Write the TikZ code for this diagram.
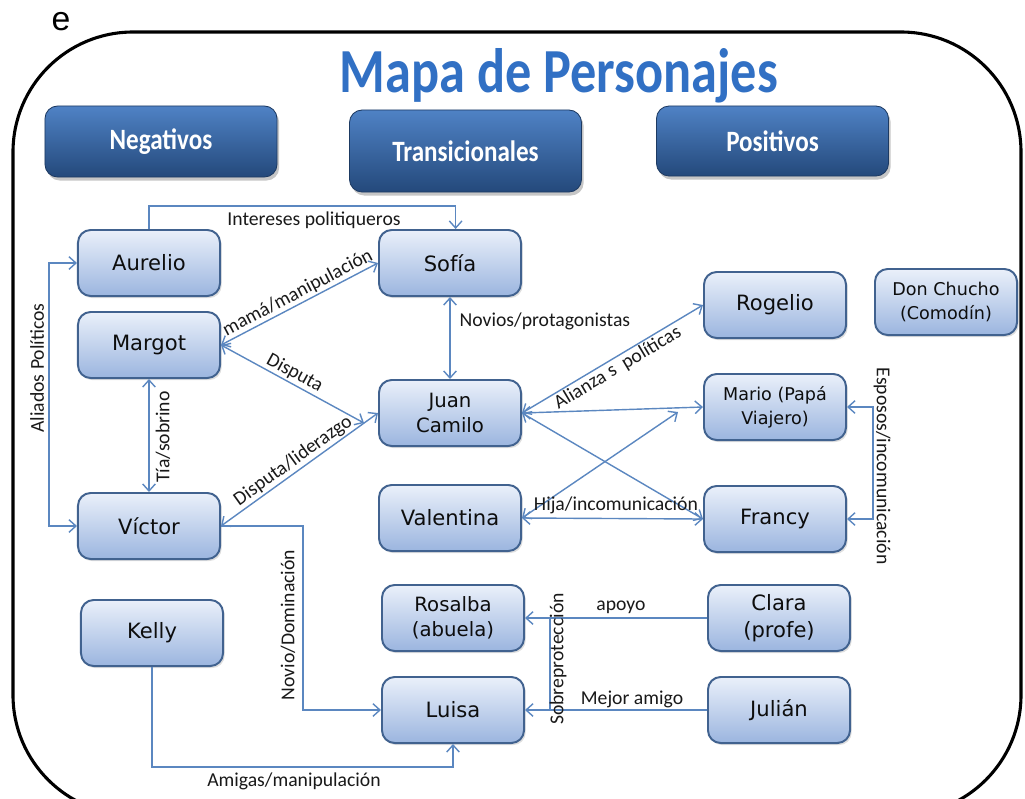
\documentclass[tikz,border=0pt]{standalone}
\usepackage{fontspec}
\setmainfont{Carlito}
\newfontfamily\comicf{DejaVu Sans}
\newfontfamily\arialf{Liberation Sans}
\usetikzlibrary{arrows.meta,shadows}
\definecolor{connc}{HTML}{5B87C0}
\definecolor{nodetop}{HTML}{EAF0FA}
\definecolor{nodebot}{HTML}{9BB5DF}
\definecolor{nodeborder}{HTML}{41628F}
\definecolor{hdrtop}{HTML}{4F82C5}
\definecolor{hdrbot}{HTML}{24497B}
\definecolor{titleblue}{HTML}{3170C4}
\newcommand\hdrtext[1]{\scalebox{0.85}[1]{#1}}
\begin{document}
\begin{tikzpicture}[x=0.025cm, y=-0.025cm,
  charbox/.style={draw=nodeborder, line width=1.4pt, rounded corners=9pt,
    top color=nodetop, bottom color=nodebot, minimum width=3.55cm,
    minimum height=1.65cm, inner sep=2pt, align=center,
    font=\comicf\fontsize{15}{19}\selectfont, text=black!95,
    drop shadow={shadow xshift=1.2pt, shadow yshift=-1.5pt, opacity=0.25}},
  smallbox/.style={font=\comicf\fontsize{12.5}{17}\selectfont},
  midbox/.style={font=\comicf\fontsize{14}{18}\selectfont},
  hdr/.style={draw=hdrbot!80!black, line width=0.6pt, rounded corners=9pt,
    top color=hdrtop, bottom color=hdrbot, minimum width=5.8cm,
    text=white, font=\fontsize{21}{24}\selectfont\bfseries,
    drop shadow={shadow xshift=1.5pt, shadow yshift=-2.5pt, opacity=0.45}},
  cn/.style={draw=connc, line width=1pt},
  >={Straight Barb[length=5pt,width=9pt]},
  lbl/.style={font=\fontsize{14}{16}\selectfont, text=black!90, inner sep=1pt}
]
\path[use as bounding box] (0,0) rectangle (1025,798);
\clip (0,0) rectangle (1025,798);

% outer frame
\draw[line width=2.2pt, rounded corners=3cm] (13,32) rectangle (1021,815);

% stray letter
\node[font=\arialf\fontsize{24}{24}\selectfont, inner sep=0] (eletter) at (61,22) {e};

% title
\node[anchor=base, inner sep=0, text=titleblue] (title) at (559,92)
  {\resizebox{10.95cm}{1.1cm}{\bfseries Mapa de Personajes}};

% header boxes
\node[hdr, minimum height=1.775cm] (neg) at (161,141.5) {\hdrtext{Negativos}};
\node[hdr, minimum height=2.05cm] (trans) at (465.5,151) {\hdrtext{Transicionales}};
\node[hdr, minimum height=1.75cm] (pos) at (772.5,141) {\hdrtext{Positivos}};

% characters
\node[charbox] (aurelio) at (149,263) {Aurelio};
\node[charbox] (margot) at (149,345) {Margot};
\node[charbox] (victor) at (149,526) {Víctor};
\node[charbox] (kelly) at (152,633) {Kelly};
\node[charbox] (sofia) at (450,263) {Sofía};
\node[charbox, midbox] (jc) at (450,413) {Juan\\Camilo};
\node[charbox] (valentina) at (450,518) {Valentina};
\node[charbox, midbox] (rosalba) at (453,618) {Rosalba\\(abuela)};
\node[charbox] (luisa) at (453,710) {Luisa};
\node[charbox] (rogelio) at (775,305) {Rogelio};
\node[charbox, smallbox] (chucho) at (946,302) {Don Chucho\\(Comodín)};
\node[charbox, smallbox] (mario) at (775,407) {Mario (Papá\\Viajero)};
\node[charbox] (francy) at (775,519) {Francy};
\node[charbox] (clara) at (779,618) {Clara\\(profe)};
\node[charbox] (julian) at (779,710) {Julián};

% connectors
\draw[cn,->] (aurelio.north) -- ++(0,-23) -| ([xshift=4pt]sofia.north);
\draw[cn,<->] (aurelio.west) -- ++(-28,0) |- (victor.west);
\draw[cn,<->] (margot) -- (victor);
\draw[cn,<->] (margot.east) -- node[lbl,sloped,above,pos=0.52] (lmama) {mamá/manipulación} (sofia.west);
\draw[cn,<->] (margot.east) -- node[lbl,sloped,above,pos=0.48] (ldisp) {Disputa} ([shift={(-14,10)}]jc.west);
\draw[cn,<->] (victor.east) -- node[lbl,sloped,above] (ldl) {Disputa/liderazgo} (jc.west);
\draw[cn,<->] (sofia) -- (jc);
\draw[cn,<->] (jc.east) -- node[lbl,sloped,below] (lali) {Alianza s\ \ políticas} (rogelio.west);
\draw[cn,<->] (jc.east) -- (mario.west);
\draw[cn,<->] (jc.east) -- (francy.west);
\draw[cn,<->] (valentina.east) -- ([shift={(-25,5)}]mario.west);
\draw[cn,<->] (valentina.east) -- (francy.west);
\draw[cn,<->] (mario.east) -- ++(26,0) |- (francy.east);
\draw[cn,->] (victor.east) -- ++(82,0) |- (luisa.west);
\draw[cn,->] (kelly.south) -- ++(0,100) -| (luisa.south);
\draw[cn,->] (clara.west) -- (rosalba.east);
\draw[cn,->] (julian.west) -- (luisa.east);
\coordinate (sobre) at (550,0);
\draw[cn] (rosalba.east -| sobre) -- (luisa.east -| sobre);

% labels
\node[lbl] (lint) at (314,220) {Intereses politiqueros};
\node[lbl, rotate=90] (laliados) at (37,368) {Aliados Políticos};
\node[lbl, rotate=90] (ltia) at (163,437) {Tía/sobrino};
\node[lbl, anchor=west] (lnovios) at (458,321) {Novios/protagonistas};
\node[lbl] (lhija) at (616,505) {Hija/incomunicación};
\node[lbl, rotate=-90] (lesp) at (882,466) {Esposos/incomunicación};
\node[lbl, rotate=90] (lnovio) at (288,625) {Novio/Dominación};
\node[lbl] (lamigas) at (294,781) {Amigas/manipulación};
\node[lbl] (lapoyo) at (621,607) {apoyo};
\node[lbl] (lmejor) at (632,699) {Mejor amigo};
\node[lbl, rotate=90] (lsobre) at (558,659) {Sobreprotección};
\end{tikzpicture}
\end{document}
